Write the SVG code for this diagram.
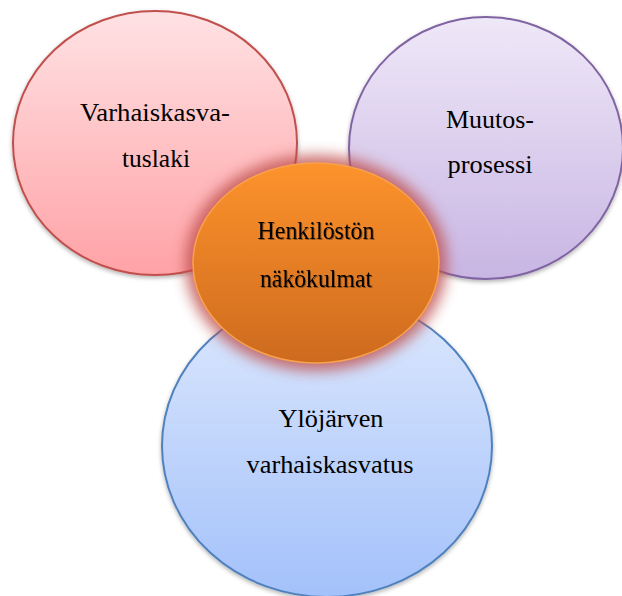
<svg xmlns="http://www.w3.org/2000/svg" width="622" height="596" viewBox="0 0 622 596">
<defs>
<linearGradient id="gRed" x1="0" y1="0" x2="0" y2="1"><stop offset="0" stop-color="#ffe2e4"/><stop offset="1" stop-color="#ffa2a6"/></linearGradient>
<linearGradient id="gPurple" x1="0" y1="0" x2="0" y2="1"><stop offset="0" stop-color="#efe8f8"/><stop offset="1" stop-color="#c8b5e3"/></linearGradient>
<linearGradient id="gBlue" x1="0" y1="0" x2="0" y2="1"><stop offset="0" stop-color="#dde8fd"/><stop offset="1" stop-color="#a3c1fa"/></linearGradient>
<linearGradient id="gOrange" x1="0" y1="0" x2="0" y2="1"><stop offset="0" stop-color="#fd932c"/><stop offset="1" stop-color="#cd6a1e"/></linearGradient>
<filter id="glow" x="-30%" y="-30%" width="160%" height="160%"><feGaussianBlur stdDeviation="7"/></filter>
<filter id="shadow" x="-10%" y="-10%" width="120%" height="120%"><feDropShadow dx="0" dy="2" stdDeviation="2" flood-color="#000" flood-opacity="0.3"/></filter>
<filter id="tshadow" x="-10%" y="-20%" width="120%" height="140%"><feDropShadow dx="1" dy="1" stdDeviation="0.6" flood-color="#000" flood-opacity="0.35"/></filter>
</defs>
<style>
.lbl{font-family:"Liberation Serif","Times New Roman",serif;font-size:25px;fill:#000;text-anchor:middle}
</style>
<rect width="622" height="596" fill="#fff"/>
<g id="node-blue">
<ellipse cx="327" cy="446" rx="165" ry="151" fill="url(#gBlue)" stroke="#4f81bd" stroke-width="2" filter="url(#shadow)"/>
<text class="lbl" x="331" y="427" textLength="105" lengthAdjust="spacingAndGlyphs">Ylöjärven</text>
<text class="lbl" x="330" y="473" textLength="167" lengthAdjust="spacingAndGlyphs">varhaiskasvatus</text>
</g>
<g id="node-red">
<ellipse cx="155" cy="143" rx="142" ry="132" fill="url(#gRed)" stroke="#c0504d" stroke-width="2" filter="url(#shadow)"/>
<text class="lbl" x="155" y="121" textLength="150" lengthAdjust="spacingAndGlyphs">Varhaiskasva-</text>
<text class="lbl" x="156" y="167" textLength="68" lengthAdjust="spacingAndGlyphs">tuslaki</text>
</g>
<g id="node-purple">
<ellipse cx="486" cy="148" rx="137" ry="131" fill="url(#gPurple)" stroke="#8064a2" stroke-width="2" filter="url(#shadow)"/>
<text class="lbl" x="490" y="128" textLength="88" lengthAdjust="spacingAndGlyphs">Muutos-</text>
<text class="lbl" x="490" y="173" textLength="85" lengthAdjust="spacingAndGlyphs">prosessi</text>
</g>
<g id="node-center">
<ellipse cx="316" cy="263" rx="131" ry="108" fill="#c0504d" opacity="0.8" filter="url(#glow)"/>
<ellipse cx="316" cy="263" rx="123" ry="100" fill="url(#gOrange)" stroke="#f9a24c" stroke-width="1.5"/>
<text class="lbl" x="316" y="239" textLength="117" lengthAdjust="spacingAndGlyphs" filter="url(#tshadow)">Henkilöstön</text>
<text class="lbl" x="316" y="287" textLength="112" lengthAdjust="spacingAndGlyphs" filter="url(#tshadow)">näkökulmat</text>
</g>
<g id="connectors"/>
</svg>
